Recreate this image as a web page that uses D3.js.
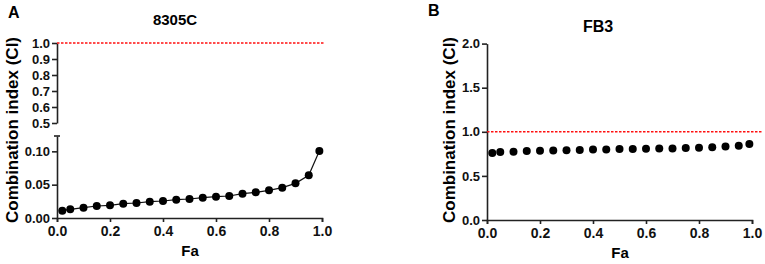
<!DOCTYPE html>
<html>
<head>
<meta charset="utf-8">
<script src="https://cdn.jsdelivr.net/npm/d3@7"></script>
<style>
  html, body { margin: 0; padding: 0; background: #fff; }
  svg { display: block; font-family: Arial, "Liberation Sans", sans-serif; }
  .axis path, .axis line { stroke: #222; stroke-width: 1.6; }
  .axis text { font-weight: bold; fill: #111; }
</style>
</head>
<body>
<svg id="chart" width="765" height="264"></svg>
<script>
// Fa values shared by both panels
const fa = [0.02, 0.05, 0.10, 0.15, 0.20, 0.25, 0.30, 0.35, 0.40, 0.45, 0.50,
            0.55, 0.60, 0.65, 0.70, 0.75, 0.80, 0.85, 0.90, 0.95, 0.99];

// panel A: 8305C
const ciA = [0.011, 0.013, 0.0155, 0.018, 0.019, 0.0215, 0.0225, 0.0245, 0.0255, 0.0275, 0.0285,
             0.0305, 0.032, 0.033, 0.0365, 0.0385, 0.0415, 0.0455, 0.052, 0.064, 0.1005];

// panel B: FB3
const ciB = [0.76, 0.77, 0.775, 0.783, 0.785, 0.789, 0.79, 0.795, 0.798, 0.80, 0.804,
             0.806, 0.808, 0.81, 0.812, 0.815, 0.819, 0.826, 0.832, 0.842, 0.862];

const xTicks = [0, 0.2, 0.4, 0.6, 0.8, 1.0];
const yTicksAUpper = [0.5, 0.6, 0.7, 0.8, 0.9, 1.0];
const yTicksALower = [0, 0.05, 0.10];
const yTicksB = [0, 0.5, 1.0, 1.5, 2.0];

const svg = d3.select('#chart');

function xAxis(g, x, y0) {
  g.attr('class', 'axis')
    .attr('transform', `translate(0,${y0})`)
    .call(d3.axisBottom(x).tickValues(xTicks).tickFormat(d3.format('.1f')).tickSize(4).tickPadding(4))
    .call(s => s.selectAll('text').style('font-size', '14px'));
}

function yAxis(g, y, x0, ticks, fmt) {
  g.attr('class', 'axis')
    .attr('transform', `translate(${x0},0)`)
    .call(d3.axisLeft(y).tickValues(ticks).tickFormat(d3.format(fmt)).tickSizeInner(5).tickSizeOuter(0).tickPadding(2))
    .call(s => s.selectAll('text').style('font-size', '13px'));
}

function labels(yLabelX, xLabelX, xLabelY) {
  svg.append('text')
    .attr('transform', `translate(${yLabelX},130) rotate(-90)`)
    .attr('text-anchor', 'middle')
    .style('font-size', '17px').style('font-weight', 'bold')
    .text('Combination index (CI)');
  svg.append('text')
    .attr('x', xLabelX).attr('y', xLabelY)
    .attr('text-anchor', 'middle')
    .style('font-size', '15px').style('font-weight', 'bold')
    .text('Fa');
}

// ---------- panel A ----------
const xA = d3.scaleLinear().domain([0, 1]).range([57, 322]);
const yAUp = d3.scaleLinear().domain([0.5, 1.0]).range([123, 43]);
const yALow = d3.scaleLinear().domain([0, 0.123]).range([218, 136]);

svg.append('g').call(yAxis, yAUp, 57, yTicksAUpper, '.1f');
svg.append('g').call(yAxis, yALow, 57, yTicksALower, '.2f');
// cap at top of the broken lower axis
svg.append('line')
  .attr('x1', 54).attr('x2', 60)
  .attr('y1', yALow(0.123)).attr('y2', yALow(0.123))
  .attr('stroke', '#222').attr('stroke-width', 1.6);
svg.append('g').call(xAxis, xA, 218);

svg.append('line')
  .attr('x1', xA(0)).attr('x2', 325)
  .attr('y1', yAUp(1)).attr('y2', yAUp(1))
  .attr('stroke', '#ff1010').attr('stroke-width', 1.6)
  .attr('stroke-dasharray', '2.5,1.5');

const lineA = d3.line().x((d, i) => xA(fa[i])).y(d => yALow(d));
svg.append('path')
  .datum(ciA)
  .attr('fill', 'none').attr('stroke', '#111').attr('stroke-width', 1.2)
  .attr('d', lineA);
svg.append('g').selectAll('circle')
  .data(ciA).join('circle')
  .attr('cx', (d, i) => xA(fa[i]))
  .attr('cy', d => yALow(d))
  .attr('r', 4).attr('fill', '#000');

labels(18, 190, 256);

svg.append('text').attr('x', 8).attr('y', 18)
  .style('font-size', '16px').style('font-weight', 'bold').text('A');
svg.append('text').attr('x', 175).attr('y', 25).attr('text-anchor', 'middle')
  .style('font-size', '15px').style('font-weight', 'bold').text('8305C');

// ---------- panel B ----------
const xB = d3.scaleLinear().domain([0, 1]).range([487, 752]);
const yB = d3.scaleLinear().domain([0, 2]).range([220, 43.6]);

svg.append('g').call(yAxis, yB, 487, yTicksB, '.1f');
svg.append('g').call(xAxis, xB, 220);

svg.append('line')
  .attr('x1', xB(0)).attr('x2', 762)
  .attr('y1', yB(1)).attr('y2', yB(1))
  .attr('stroke', '#ff1010').attr('stroke-width', 1.6)
  .attr('stroke-dasharray', '2.5,1.5');

svg.append('g').selectAll('circle')
  .data(ciB).join('circle')
  .attr('cx', (d, i) => xB(fa[i]))
  .attr('cy', d => yB(d))
  .attr('r', 4).attr('fill', '#000');

labels(455, 620, 258);

svg.append('text').attr('x', 428).attr('y', 16)
  .style('font-size', '16px').style('font-weight', 'bold').text('B');
svg.append('text').attr('x', 598).attr('y', 32).attr('text-anchor', 'middle')
  .style('font-size', '16px').style('font-weight', 'bold').text('FB3');
</script>
</body>
</html>
